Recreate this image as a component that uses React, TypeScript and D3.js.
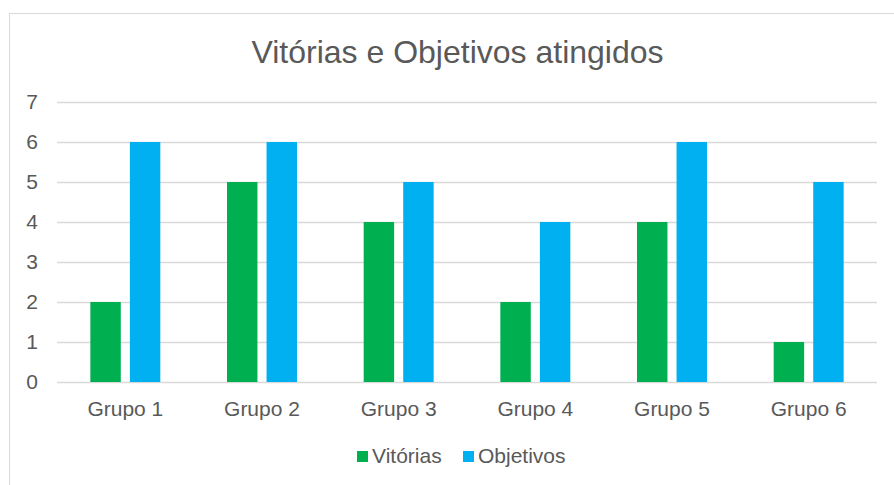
import React, { useEffect, useRef } from 'react';
import * as d3 from 'd3';

const categories = ['Grupo 1', 'Grupo 2', 'Grupo 3', 'Grupo 4', 'Grupo 5', 'Grupo 6'];
const series = ['Vitórias', 'Objetivos'];
const vitorias = [2, 5, 4, 2, 4, 1];
const objetivos = [6, 6, 5, 4, 6, 5];
const colors = ['#00B050', '#00B0F0'];
const yTicks = [0, 1, 2, 3, 4, 5, 6, 7];
const title = 'Vitórias e Objetivos atingidos';

const W = 894;
const H = 485;
const FONT = '"Liberation Sans", Arial, sans-serif';
const TEXT = '#595959';

const App = () => {
  const svgRef = useRef<SVGSVGElement>(null);

  useEffect(() => {
    const svg = d3.select(svgRef.current);
    svg.selectAll('*').remove();

    // chart frame
    svg.append('rect')
      .attr('x', 9.5).attr('y', 13.5)
      .attr('width', 900).attr('height', 500)
      .attr('fill', '#fff')
      .attr('stroke', '#D9D9D9');

    svg.append('text')
      .attr('x', 457.5).attr('y', 63)
      .attr('text-anchor', 'middle')
      .attr('font-family', FONT)
      .attr('font-size', 32)
      .attr('fill', TEXT)
      .text(title);

    const x0 = d3.scaleBand<string>()
      .domain(categories)
      .range([57, 877])
      .paddingInner(0.488)
      .paddingOuter(0.244);

    const x1 = d3.scaleBand<string>()
      .domain(series)
      .range([0, x0.bandwidth()])
      .paddingInner(0.23);

    const y = d3.scaleLinear().domain([0, 7]).range([382, 102]);

    // gridlines
    svg.append('g')
      .selectAll('line')
      .data(yTicks)
      .join('line')
      .attr('x1', 57).attr('x2', 877)
      .attr('y1', d => Math.round(y(d)) + 0.5)
      .attr('y2', d => Math.round(y(d)) + 0.5)
      .attr('stroke', '#D9D9D9')
      .attr('stroke-width', 1.3);

    // y labels
    svg.append('g')
      .selectAll('text')
      .data(yTicks)
      .join('text')
      .attr('x', 38)
      .attr('y', d => y(d))
      .attr('dy', '0.35em')
      .attr('text-anchor', 'end')
      .attr('font-family', FONT)
      .attr('font-size', 21)
      .attr('fill', TEXT)
      .text(d => d);

    const values = [vitorias, objetivos];
    const groups = svg.append('g')
      .selectAll('g')
      .data(categories)
      .join('g')
      .attr('transform', d => `translate(${x0(d)},0)`);

    groups.selectAll('rect')
      .data((c, i) => series.map((s, j) => ({ s, v: values[j][i], j })))
      .join('rect')
      .attr('x', d => x1(d.s)!)
      .attr('y', d => y(d.v))
      .attr('width', x1.bandwidth())
      .attr('height', d => y(0) - y(d.v))
      .attr('fill', d => colors[d.j]);

    // x labels
    svg.append('g')
      .selectAll('text')
      .data(categories)
      .join('text')
      .attr('x', d => x0(d)! + x0.bandwidth() / 2)
      .attr('y', 416)
      .attr('text-anchor', 'middle')
      .attr('font-family', FONT)
      .attr('font-size', 21)
      .attr('fill', TEXT)
      .text(d => d);

    // legend
    const legendX = [357, 463];
    const legend = svg.append('g')
      .selectAll('g')
      .data(series)
      .join('g')
      .attr('transform', (d, i) => `translate(${legendX[i]},0)`);
    legend.append('rect')
      .attr('x', 0).attr('y', 451)
      .attr('width', 11).attr('height', 11)
      .attr('fill', (d, i) => colors[i]);
    legend.append('text')
      .attr('x', 15).attr('y', 463)
      .attr('font-family', FONT)
      .attr('font-size', 21)
      .attr('fill', TEXT)
      .text(d => d);
  }, []);

  return (
    <svg
      ref={svgRef}
      width={W}
      height={H}
      style={{ position: 'absolute', left: 0, top: 0, background: '#fff' }}
    />
  );
};

export default App;
